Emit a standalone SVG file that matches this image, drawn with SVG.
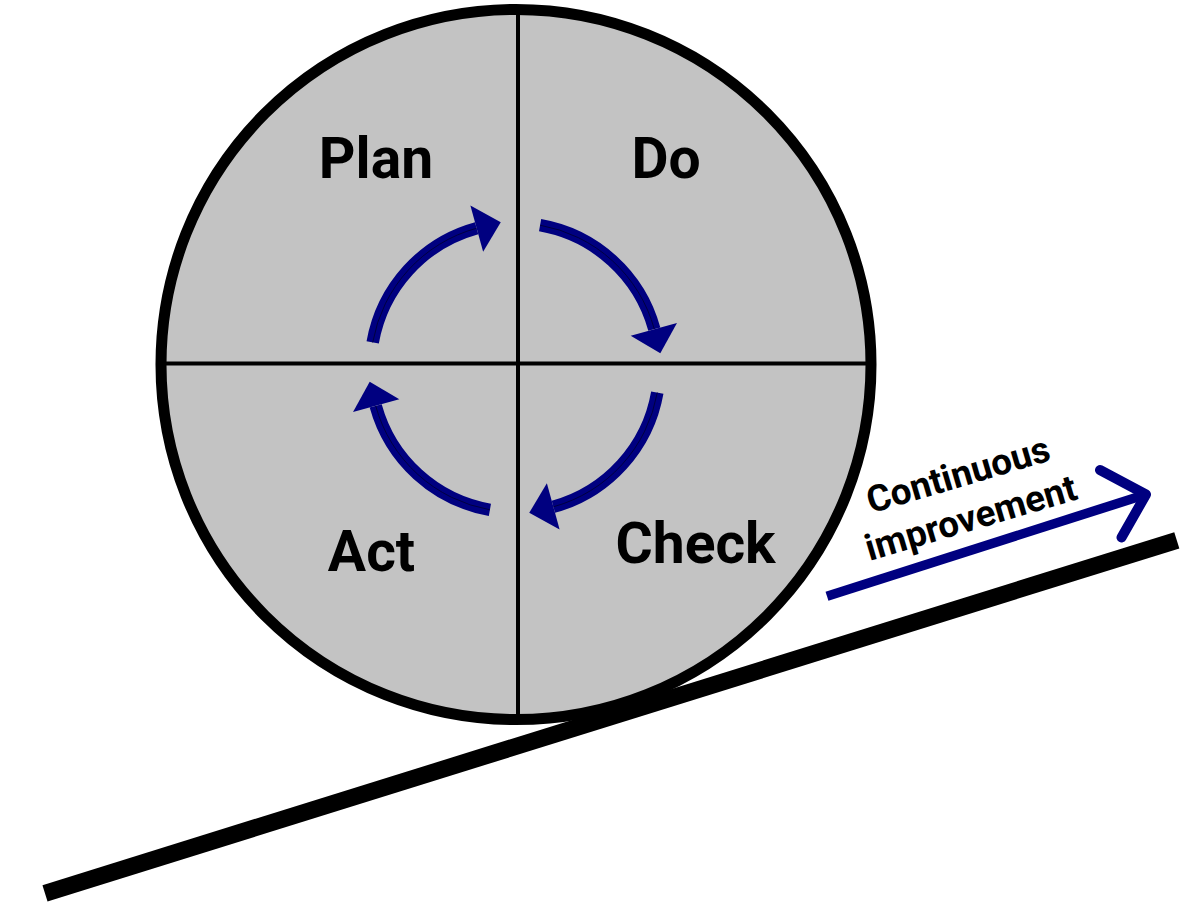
<svg xmlns="http://www.w3.org/2000/svg" width="1200" height="905" viewBox="0 0 1200 905">
  <style>
    .lbl { font-family: Roboto, "Liberation Sans", sans-serif; font-weight: bold; font-size: 57px; fill: #000; text-anchor: middle; }
    .ci { font-family: Roboto, "Liberation Sans", sans-serif; font-weight: bold; font-size: 36.8px; fill: #000; text-anchor: middle; }
    .arc { fill: none; stroke: #000080; stroke-width: 12.5; }
    .arcline { fill: none; stroke: #000040; stroke-width: 1; }
    .head { fill: #000080; }
    .div { stroke: #000; stroke-width: 4; }
  </style>
  <rect width="1200" height="905" fill="#fff"/>
  <g id="wheel">
    <circle cx="516" cy="364.5" r="355" fill="#c3c3c3" stroke="#000" stroke-width="11"/>
    <line class="div" x1="518" y1="12" x2="518" y2="717"/>
    <line class="div" x1="164" y1="363.5" x2="868" y2="363.5"/>
  </g>
  <g id="slope">
    <line x1="45" y1="893.3" x2="1176.8" y2="540.3" stroke="#000" stroke-width="17"/>
  </g>
  <g id="plan"><text class="lbl" x="376" y="178">Plan</text></g>
  <g id="do"><text class="lbl" x="666" y="178">Do</text></g>
  <g id="check"><text class="lbl" x="695.5" y="563">Check</text></g>
  <g id="act"><text class="lbl" x="371.5" y="571">Act</text></g>
  <g id="connectors">
    <g id="arrow-plan-do">
      <path class="arc" d="M372.7,342.41 A144.5,144.5 0 0 1 476.63,228.19"/>
      <path class="arcline" d="M372.7,342.41 A144.5,144.5 0 0 1 476.63,228.19"/>
      <polygon class="head" points="483.13,251.81 470.39,205.53 500.75,222.2"/>
    </g>
    <g id="arrow-do-check">
      <path class="arc" d="M540.09,225.2 A144.5,144.5 0 0 1 654.31,329.13"/>
      <path class="arcline" d="M540.09,225.2 A144.5,144.5 0 0 1 654.31,329.13"/>
      <polygon class="head" points="630.69,335.63 676.97,322.89 660.3,353.25"/>
    </g>
    <g id="arrow-check-act">
      <path class="arc" d="M657.3,392.59 A144.5,144.5 0 0 1 553.37,506.81"/>
      <path class="arcline" d="M657.3,392.59 A144.5,144.5 0 0 1 553.37,506.81"/>
      <polygon class="head" points="546.87,483.19 559.61,529.47 529.25,512.8"/>
    </g>
    <g id="arrow-act-plan">
      <path class="arc" d="M489.91,509.8 A144.5,144.5 0 0 1 375.69,405.87"/>
      <path class="arcline" d="M489.91,509.8 A144.5,144.5 0 0 1 375.69,405.87"/>
      <polygon class="head" points="399.31,399.37 353.03,412.11 369.7,381.75"/>
    </g>
    <g id="arrow-improvement">
      <line x1="827" y1="596.2" x2="1144" y2="495" stroke="#000080" stroke-width="9.5"/>
      <polyline points="1100,470 1146,494.5 1121.5,537.5" fill="none" stroke="#000080" stroke-width="10" stroke-linecap="round" stroke-linejoin="round"/>
    </g>
  </g>
  <g id="improvement-label">
    <text class="ci" transform="translate(961.6,486.7) rotate(-16.5)"><tspan x="0" y="0">Continuous</tspan><tspan x="0" y="45">improvement</tspan></text>
  </g>
</svg>
